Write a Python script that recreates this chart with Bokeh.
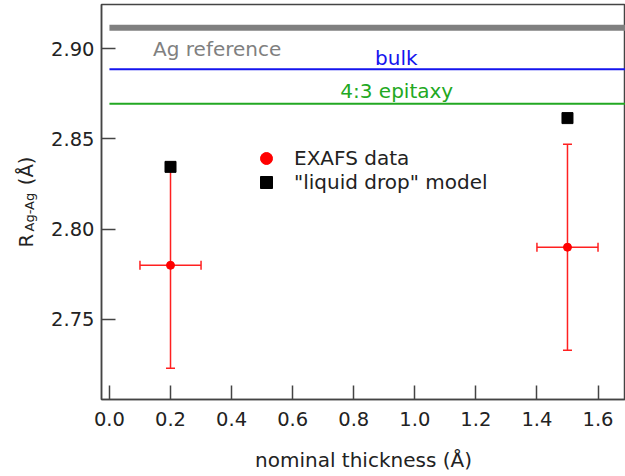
import math
from bokeh.plotting import figure
from bokeh.models import (ColumnDataSource, Whisker, TeeHead, Label, Legend, LegendItem,
                          FixedTicker, NumeralTickFormatter, Range1d)
from bokeh.embed import file_html
from bokeh.resources import INLINE

# ---- data ----
thickness = [0.2, 1.5]
exafs_r = [2.780, 2.790]
exafs_r_err = [0.057, 0.057]
thickness_err = [0.1, 0.1]
model_r = [2.8345, 2.8615]

ref_names = ["Ag reference", "bulk", "4:3 epitaxy"]
ref_values = [2.9115, 2.8885, 2.8695]
ref_colors = ["#808080", "#1414ee", "#22a822"]
ref_widths = [6, 2, 2]

x_ticks = [0.0, 0.2, 0.4, 0.6, 0.8, 1.0, 1.2, 1.4, 1.6]
y_ticks = [2.75, 2.80, 2.85, 2.90]

FONT = "DejaVu Sans"
FS_TICK = "19.5px"
FS = "20px"
TXT = "#222222"
X0, X1 = -0.026, 1.690
Y0, Y1 = 2.7057, 2.9244

p = figure(width=625, height=476, output_backend="svg", toolbar_location=None,
           x_range=Range1d(X0, X1), y_range=Range1d(Y0, Y1),
           min_border_left=101, min_border_right=0, min_border_top=4, min_border_bottom=77)
p.grid.visible = False
p.outline_line_color = "#444444"
p.outline_line_width = 1.5
p.background_fill_color = "white"
p.border_fill_color = "white"

for ax in (p.xaxis[0], p.yaxis[0]):
    ax.axis_line_color = "#444444"
    ax.axis_line_width = 1.5
    ax.major_tick_line_color = "#444444"
    ax.major_tick_line_width = 1.5
    ax.major_tick_in = 14
    ax.major_tick_out = 0
    ax.minor_tick_line_color = None
    ax.major_label_text_font = FONT
    ax.major_label_text_font_size = FS_TICK
    ax.major_label_text_color = TXT

p.xaxis.ticker = FixedTicker(ticks=x_ticks)
p.xaxis.formatter = NumeralTickFormatter(format="0.0")
p.xaxis.major_label_standoff = 12
p.xaxis.axis_label = "nominal thickness (Å)"
p.xaxis.axis_label_text_font = FONT
p.xaxis.axis_label_text_font_size = FS
p.xaxis.axis_label_text_font_style = "normal"
p.xaxis.axis_label_text_color = TXT
p.xaxis.axis_label_standoff = 19

p.yaxis.ticker = FixedTicker(ticks=y_ticks)
p.yaxis.formatter = NumeralTickFormatter(format="0.00")
p.yaxis.major_label_standoff = 7

# reference lines
ref_src = ColumnDataSource(dict(x0=[0.0] * 3, x1=[X1] * 3, y=ref_values,
                                color=ref_colors, w=ref_widths))
p.segment(x0="x0", y0="y", x1="x1", y1="y", line_color="color", line_width="w", source=ref_src)

# reference text
ref_label_x = [0.143, 0.870, 0.756]
ref_label_y = [2.9000, 2.8950, 2.8767]
for name, c, lx, ly in zip(ref_names, ref_colors, ref_label_x, ref_label_y):
    p.add_layout(Label(x=lx, y=ly, text=name, text_color=c, text_font=FONT,
                       text_font_size=FS, text_baseline="middle", text_align="left"))

# error bars
src = ColumnDataSource(dict(
    x=thickness, y=exafs_r,
    yl=[r - e for r, e in zip(exafs_r, exafs_r_err)],
    yu=[r + e for r, e in zip(exafs_r, exafs_r_err)],
    xl=[t - e for t, e in zip(thickness, thickness_err)],
    xu=[t + e for t, e in zip(thickness, thickness_err)],
))
red = "#ff2020"
wy = Whisker(source=src, base="x", lower="yl", upper="yu", dimension="height",
             line_color=red, line_width=1.5,
             lower_head=TeeHead(size=9, line_color=red, line_width=1.5),
             upper_head=TeeHead(size=9, line_color=red, line_width=1.5))
wx = Whisker(source=src, base="y", lower="xl", upper="xu", dimension="width",
             line_color=red, line_width=1.5,
             lower_head=TeeHead(size=9, line_color=red, line_width=1.5),
             upper_head=TeeHead(size=9, line_color=red, line_width=1.5))
p.add_layout(wy)
p.add_layout(wx)

r_exafs = p.scatter(x="x", y="y", source=src, marker="circle", size=8,
                    fill_color="red", line_color="red")
msrc = ColumnDataSource(dict(x=thickness, y=model_r))
r_model = p.scatter(x="x", y="y", source=msrc, marker="square", size=11,
                    fill_color="black", line_color="black")

leg_kw = dict(orientation="vertical", background_fill_alpha=0, border_line_color=None,
              label_text_font=FONT, label_text_font_size=FS, label_text_color=TXT,
              glyph_width=30, glyph_height=30, label_height=20, spacing=0,
              padding=0, margin=0, label_standoff=13)
p.add_layout(Legend(items=[LegendItem(label="EXAFS data", renderers=[r_exafs])],
                    location=(150, 226), **leg_kw))
p.add_layout(Legend(items=[LegendItem(label='"liquid drop" model', renderers=[r_model])],
                    location=(150, 202), **leg_kw))

# y-axis label "R_Ag-Ag (Å)" (canvas coordinates, in the left side panel)
lab_kw = dict(x_units="canvas", y_units="canvas", angle=math.pi / 2,
              text_font=FONT, text_color=TXT, text_align="left",
              text_baseline="alphabetic")
p.add_layout(Label(x=26, y=247, text="R\u2003\u2003\u2002(Å)", text_font_size="19.5px", **lab_kw), "left")
p.add_layout(Label(x=28.5, y=231, text="Ag-Ag", text_font_size="13px", **lab_kw), "left")

open("out.html", "w").write(file_html(p, INLINE))
